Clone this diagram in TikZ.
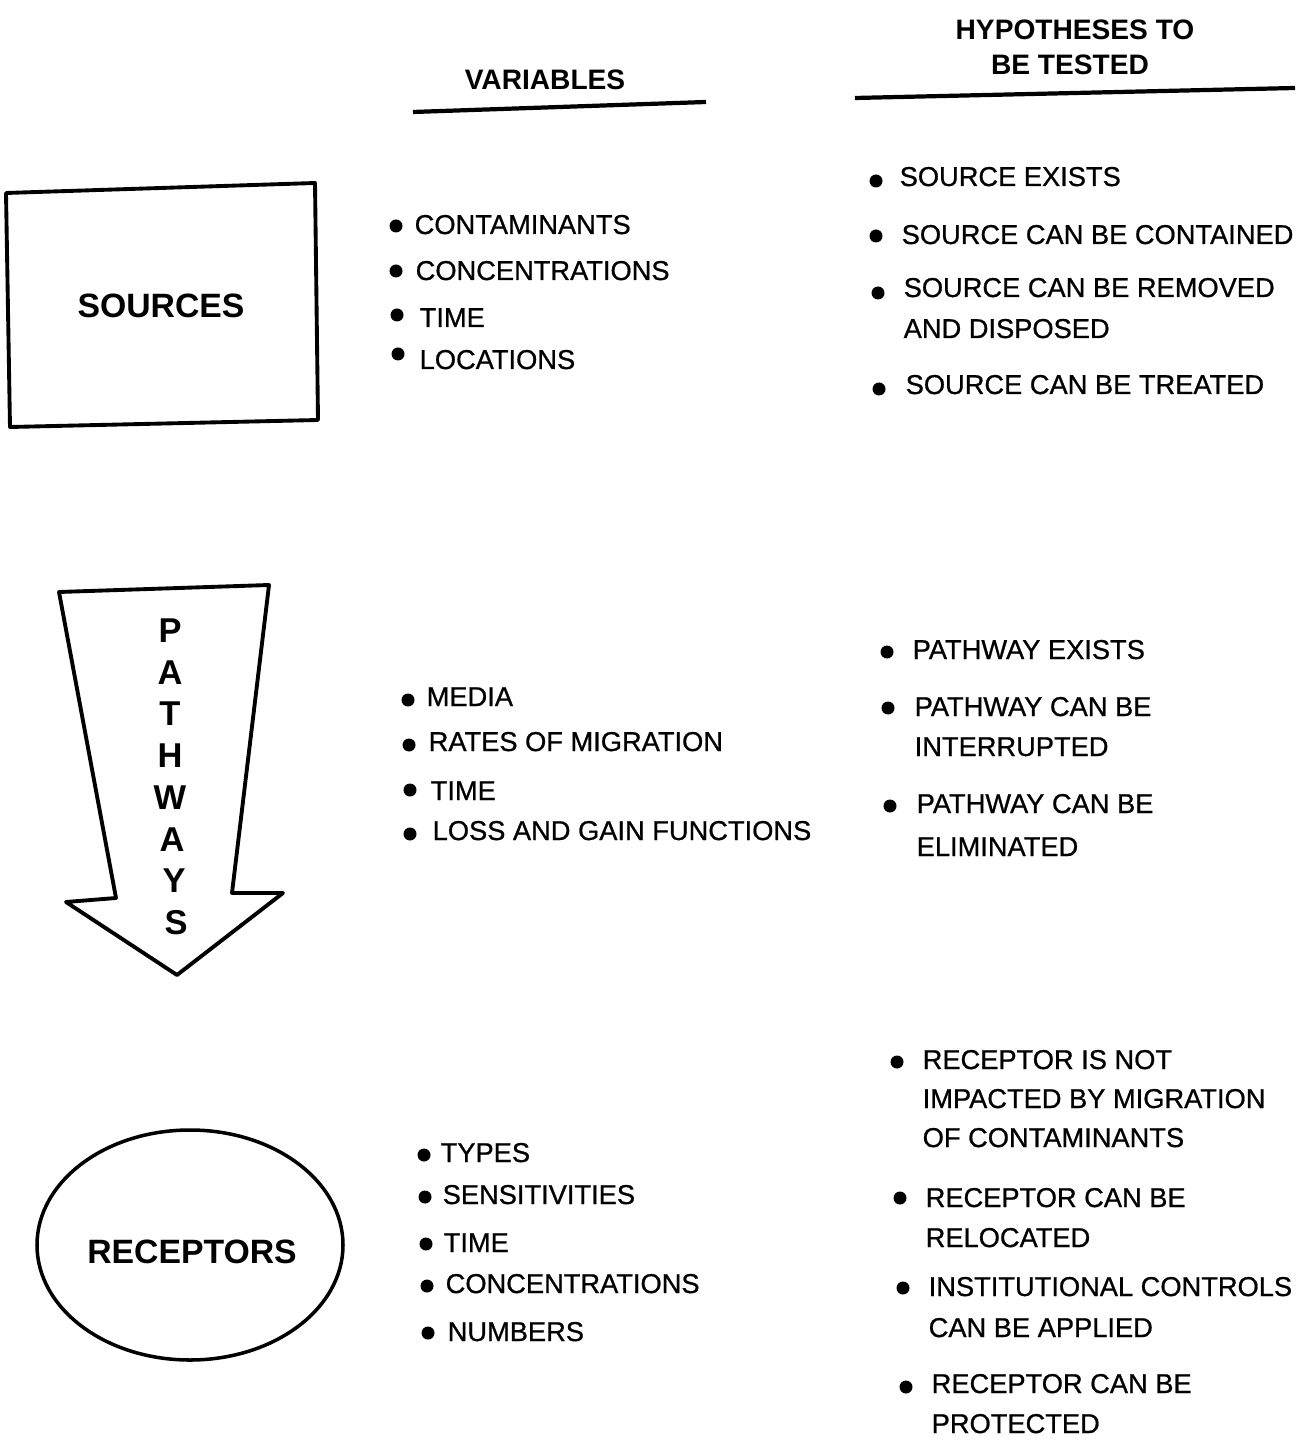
\documentclass[tikz,border=0pt]{standalone}
\usepackage{fontspec}
\setmainfont{Liberation Sans}
\newfontfamily\scanfont{Liberation Sans}[FakeBold=0.8]
\usetikzlibrary{arrows.meta}

\tikzset{
  txt/.style={anchor=base west, inner sep=0pt, font=\fontsize{7.75}{9}\scanfont},
  head/.style={inner sep=0pt, font=\fontsize{8}{9}\selectfont\bfseries},
  big/.style={inner sep=0pt, font=\fontsize{9.6}{11}\selectfont\bfseries},
  letter/.style={inner sep=0pt, font=\fontsize{9.8}{10}\selectfont\bfseries},
  outline/.style={line width=1.1pt, line join=round}
}

\begin{document}
\begin{tikzpicture}[x=0.01cm, y=-0.01cm]

    \useasboundingbox (0,0) rectangle (1301,1440);

    % Column headings
    \node[head] (hvar) at (545,80) {VARIABLES};
    \draw[line width=1.2pt] (413,112) -- (706,102);
    \node[head] (hhypa) at (1075,30) {HYPOTHESES TO};
    \node[head] (hhypb) at (1070,65) {BE TESTED};
    \draw[line width=1.2pt] (855,98) -- (1295,88);

    % Sources
    \draw[outline] (6,193) -- (315,183) -- (318,420) -- (10,427) -- cycle;
    \node[big] (src) at (161,306) {SOURCES};

    \fill (396,226) circle (6.5);
    \node[txt] (va1) at (414,234) {CONTAMINANTS};
    \fill (396,271) circle (6.5);
    \node[txt] (va2) at (415,280) {CONCENTRATIONS};
    \fill (397,315) circle (6.5);
    \node[txt] (va3) at (419,327) {TIME};
    \fill (398,354) circle (6.5);
    \node[txt] (va4) at (419,369) {LOCATIONS};

    \fill (876,181) circle (6.5);
    \node[txt] (ha1) at (899,186) {SOURCE EXISTS};
    \fill (876,236) circle (6.5);
    \node[txt] (ha2) at (901,244) {SOURCE CAN BE CONTAINED};
    \fill (878,293) circle (6.5);
    \node[txt] (ha3) at (903,297) {SOURCE CAN BE REMOVED};
    \node[txt] (ha4) at (903,338) {AND DISPOSED};
    \fill (879,389) circle (6.5);
    \node[txt] (ha5) at (905,394) {SOURCE CAN BE TREATED};

    % Pathways arrow
    \draw[outline] (59,592) -- (269,585) -- (232,893) -- (283,893) -- (177,975)
        -- (66,902) -- (116,898) -- cycle;
    \node[letter] (pp) at (170,631) {P};
    \node[letter] (pa) at (170,673) {A};
    \node[letter] (pt) at (170,714) {T};
    \node[letter] (ph) at (170,756) {H};
    \node[letter] (pw) at (170,798) {W};
    \node[letter] (pa2) at (172,840) {A};
    \node[letter] (py) at (174,881) {Y};
    \node[letter] (ps) at (176,923) {S};

    \fill (408,700) circle (6.5);
    \node[txt] (vb1) at (426,706) {MEDIA};
    \fill (409,745) circle (6.5);
    \node[txt] (vb2) at (428,751) {RATES OF MIGRATION};
    \fill (410,790) circle (6.5);
    \node[txt] (vb3) at (430,800) {TIME};
    \fill (410,834) circle (6.5);
    \node[txt] (vb4) at (432,840) {LOSS AND GAIN FUNCTIONS};

    \fill (887,652) circle (6.5);
    \node[txt] (hb1) at (912,659) {PATHWAY EXISTS};
    \fill (888,708) circle (6.5);
    \node[txt] (hb2) at (914,716) {PATHWAY CAN BE};
    \node[txt] (hb3) at (914,756) {INTERRUPTED};
    \fill (890,806) circle (6.5);
    \node[txt] (hb4) at (916,813) {PATHWAY CAN BE};
    \node[txt] (hb5) at (916,856) {ELIMINATED};

    % Receptors
    \draw[line width=1pt] (190,1245) ellipse (153 and 115);
    \node[big] (rec) at (192,1252) {RECEPTORS};

    \fill (424,1155) circle (6.5);
    \node[txt] (vc1) at (440,1162) {TYPES};
    \fill (425,1197) circle (6.5);
    \node[txt] (vc2) at (442,1204) {SENSITIVITIES};
    \fill (426,1244) circle (6.5);
    \node[txt] (vc3) at (443,1252) {TIME};
    \fill (427,1286) circle (6.5);
    \node[txt] (vc4) at (445,1293) {CONCENTRATIONS};
    \fill (428,1333) circle (6.5);
    \node[txt] (vc5) at (447,1341) {NUMBERS};

    \fill (897,1062) circle (6.5);
    \node[txt] (hc1) at (922,1069) {RECEPTOR IS NOT};
    \node[txt] (hc2) at (922,1108) {IMPACTED BY MIGRATION};
    \node[txt] (hc3) at (922,1147) {OF CONTAMINANTS};
    \fill (900,1198) circle (6.5);
    \node[txt] (hc4) at (925,1207) {RECEPTOR CAN BE};
    \node[txt] (hc5) at (925,1247) {RELOCATED};
    \fill (903,1288) circle (6.5);
    \node[txt] (hc6) at (928,1296) {INSTITUTIONAL CONTROLS};
    \node[txt] (hc7) at (928,1337) {CAN BE APPLIED};
    \fill (906,1387) circle (6.5);
    \node[txt] (hc8) at (931,1393) {RECEPTOR CAN BE};
    \node[txt] (hc9) at (931,1433) {PROTECTED};
\end{tikzpicture}
\end{document}
